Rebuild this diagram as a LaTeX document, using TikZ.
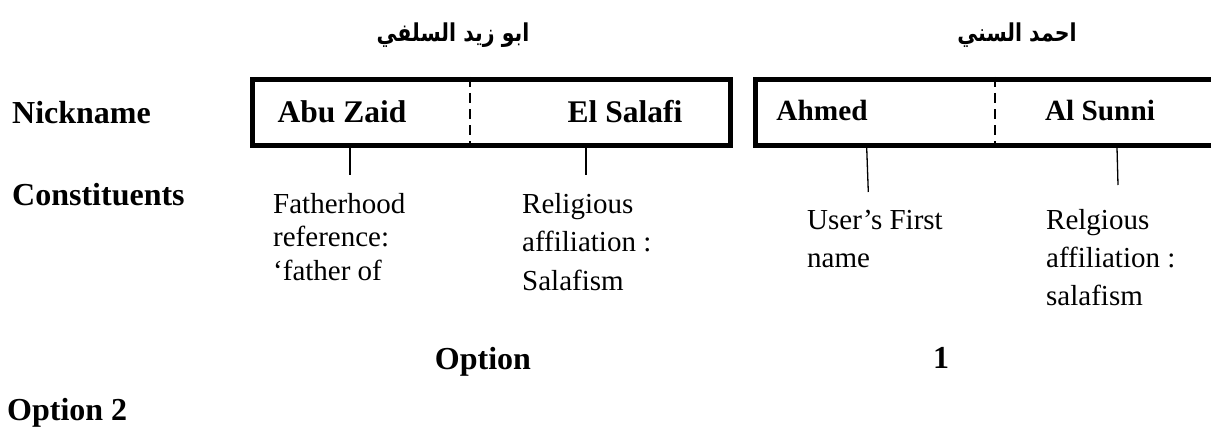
\documentclass[tikz,border=0pt]{standalone}
\usepackage{fontspec}
\usepackage{graphicx}
\setmainfont{Liberation Serif}
\newfontfamily\arabicfont[Script=Arabic]{DejaVu Sans}
\TeXXeTstate=1
\newcommand\stacklines[2]{{\fontsize{29}{#1}\selectfont\begin{tabular}[t]{@{}l@{}}#2\end{tabular}}}
\newcommand\tallarab[1]{\scalebox{1}[1.2]{\arabicfont\fontsize{20.5}{24}\selectfont\bfseries\beginR #1\endR}}
\begin{document}
\begin{tikzpicture}[x=1pt,y=-1pt,
  bold/.style={font=\fontsize{32}{36}\selectfont\bfseries, inner sep=0pt},
  boldA/.style={font=\fontsize{31.5}{36}\selectfont\bfseries, inner sep=0pt, anchor=base},
  boldB/.style={font=\fontsize{29.3}{34}\selectfont\bfseries, inner sep=0pt, anchor=base},
  plain/.style={inner sep=0pt, anchor=base west},
  arab/.style={inner sep=0pt},
  namebox/.style={draw, line width=5pt, inner sep=0pt, minimum height=65.5pt},
  divider/.style={line width=2pt, dash pattern=on 10pt off 6pt},
  link/.style={line width=1.3pt}]
\clip (0,0) rectangle (1211,428);
\fill[white] (0,0) rectangle (1211,428);

% Arabic titles
\node[arab] (ar1) at (453,35) {\tallarab{ابو زيد السلفي}};
\node[arab] (ar2) at (1017,35) {\tallarab{احمد السني}};

% boxes
\node[namebox, minimum width=478pt] (b1) at (491.5,112.25) {};
\node[namebox, minimum width=470pt] (b2) at (990,112.25) {};
\draw[divider] (b1.north -| 470,0) -- (b1.south -| 470,0);
\draw[divider] (b2.north -| 995,0) -- (b2.south -| 995,0);

% row labels
\node[bold, anchor=base west] (nick) at (12,123) {Nickname};
\node[bold, anchor=base west] (const) at (12,205) {Constituents};

% box contents
\node[boldA] (abu) at (342,122) {Abu Zaid};
\node[boldA] (sal) at (625,122) {El Salafi};
\node[boldB] (ahm) at (822,121) {Ahmed};
\node[boldB] (sun) at (1100,121) {Al Sunni};

% constituents
\node[plain] (c1) at (273,213) {\stacklines{33.5}{Fatherhood\\reference:\\‘father of}};
\node[plain] (c2) at (522,213) {\stacklines{38.5}{Religious\\affiliation :\\Salafism}};
\node[plain] (c3) at (807,229) {\stacklines{38}{User’s First\\name}};
\node[plain] (c4) at (1046,229) {\stacklines{38}{Relgious\\affiliation :\\salafism}};

% connectors
\coordinate (e1) at (350,175);
\coordinate (e2) at (586,175);
\coordinate (e3) at (868.3,192);
\coordinate (e4) at (1118,185);
\draw[link] (b1.south -| e1) -- (e1);
\draw[link] (b1.south -| e2) -- (e2);
\draw[link] (b2.south -| 866.7,0) -- (e3);
\draw[link] (b2.south -| 1117,0) -- (e4);

% options
\node[bold, anchor=base] (opt) at (483,369) {Option};
\node[bold, anchor=base] (one) at (941,368) {1};
\node[bold, anchor=base west] (opt2) at (7,420) {Option 2};
\end{tikzpicture}
\end{document}
